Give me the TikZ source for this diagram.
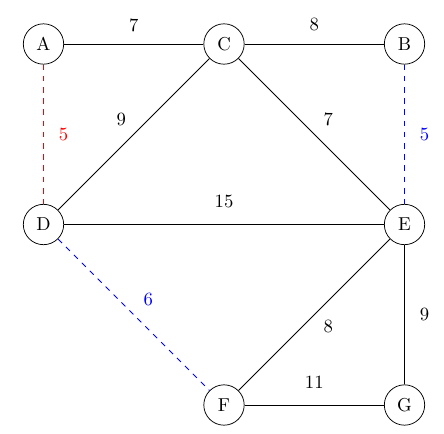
\documentclass[tikz,border=0pt]{standalone}
\begin{document}
\begin{tikzpicture}[x=0.535pt,y=-0.535pt,
  vtx/.style={draw,circle,minimum size=21.6pt,inner sep=0pt},
  lbl/.style={midway,inner sep=0pt},
  edge/.style={draw}]
\useasboundingbox (0,0) rectangle (444,433);
\node[vtx] (A) at (43.5,44) {A};
\node[vtx] (C) at (224,44) {C};
\node[vtx] (B) at (404.5,44) {B};
\node[vtx] (D) at (43.5,224.5) {D};
\node[vtx] (E) at (404.5,224.5) {E};
\node[vtx] (F) at (224,405) {F};
\node[vtx] (G) at (404.5,405) {G};
\draw (A) -- (C) node[lbl,yshift=10.2pt] {7};
\draw (C) -- (B) node[lbl,yshift=10.2pt] {8};
\draw[red,dashed] (A) -- (D) node[lbl,xshift=10.7pt] {5};
\draw (D) -- (C) node[lbl,xshift=-6.7pt,yshift=7.8pt] {9};
\draw (C) -- (E) node[lbl,xshift=7.5pt,yshift=7.8pt] {7};
\draw[blue,dashed] (B) -- (E) node[lbl,xshift=10.7pt] {5};
\draw (D) -- (E) node[lbl,yshift=12.3pt] {15};
\draw[blue,dashed] (D) -- (F) node[lbl,xshift=7.8pt,yshift=8pt] {6};
\draw (E) -- (F) node[lbl,xshift=7.5pt,yshift=-6.4pt] {8};
\draw (E) -- (G) node[lbl,xshift=10.7pt] {9};
\draw (F) -- (G) node[lbl,yshift=12.3pt] {11};
\end{tikzpicture}
\end{document}
